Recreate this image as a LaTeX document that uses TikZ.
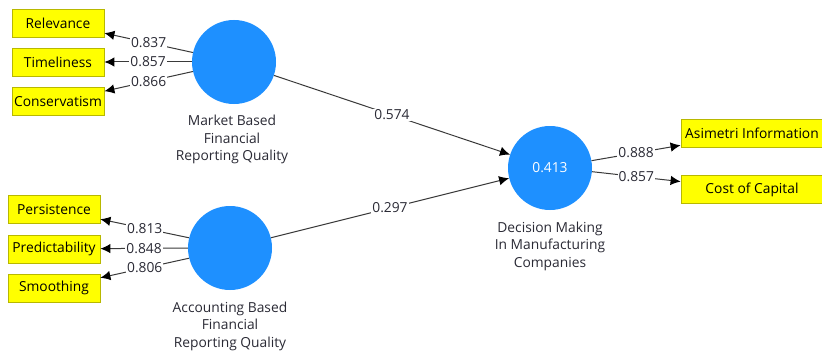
\documentclass[tikz,border=0pt]{standalone}
\usepackage{fontspec}
\setmainfont{Open Sans}
\usetikzlibrary{arrows.meta,calc}
\definecolor{lvblue}{HTML}{1E90FF}
\definecolor{indyel}{HTML}{FFFF00}
\definecolor{indedge}{HTML}{B8B800}
\definecolor{txt}{HTML}{2A2A35}
\definecolor{ln}{HTML}{3A3A3A}
\tikzset{
  ind/.style={draw=indedge, line width=0.8pt, fill=indyel, minimum width=92pt, minimum height=28pt, inner sep=0pt, font=\fontsize{13.8}{15}\selectfont, text=black},
  indw/.style={ind, minimum width=142pt},
  lv/.style={circle, fill=lvblue, draw=none, minimum size=84pt, inner sep=0pt, font=\fontsize{13.8}{15}\selectfont, text=white},
  lvlab/.style={align=center, font=\fontsize{13.8}{17.5}\selectfont, text=txt},
  conn/.style={draw=ln, line width=1pt, -{Latex[length=10pt,width=9.5pt,color=black]}},
  wt/.style={fill=white, inner sep=1pt, font=\fontsize{13.8}{15}\selectfont, text=txt},
}
\begin{document}
\begin{tikzpicture}[x=1pt,y=-1pt]
\useasboundingbox[fill=white] (0,0) rectangle (822,353);
% latent variables
\node[lv] (mkt) at (234,62) {};
\node[lv] (acc) at (230,248) {};
\node[lv] (dec) at (550,168) {0.413};
\node[lvlab] (mktl) at (232,139.5) {Market Based\\Financial\\Reporting Quality};
\node[lvlab] (accl) at (230,326) {Accounting Based\\Financial\\Reporting Quality};
\node[lvlab] (decl) at (550,246) {Decision Making\\In Manufacturing\\Companies};
% indicators
\node[ind] (rel) at (58,23) {Relevance};
\node[ind] (tim) at (58,62) {Timeliness};
\node[ind] (con) at (58,101.5) {Conservatism};
\node[ind] (per) at (54,209.5) {Persistence};
\node[ind] (pre) at (54,249) {Predictability};
\node[ind] (smo) at (54,288) {Smoothing};
\node[indw] (asi) at (752,133) {Asimetri Information};
\node[indw] (coc) at (752,189.5) {Cost of Capital};
% outer loadings
\draw[conn] (mkt.167) -- node[wt] {0.837} (rel);
\draw[conn] (mkt.180) -- node[wt] {0.857} (tim);
\draw[conn] (mkt.193) -- node[wt] {0.866} (con);
\draw[conn] (acc.166) -- node[wt] {0.813} (per);
\draw[conn] (acc.180) -- node[wt] {0.848} (pre);
\draw[conn] (acc.194) -- node[wt] {0.806} (smo);
\draw[conn] (dec.10) -- node[wt] {0.888} (asi);
\draw[conn] (dec.-5) -- node[wt] {0.857} (coc);
% inner paths
\draw[conn] (mkt) -- node[wt] {0.574} (dec);
\draw[conn] (acc) -- node[wt] {0.297} (dec);
\end{tikzpicture}
\end{document}
